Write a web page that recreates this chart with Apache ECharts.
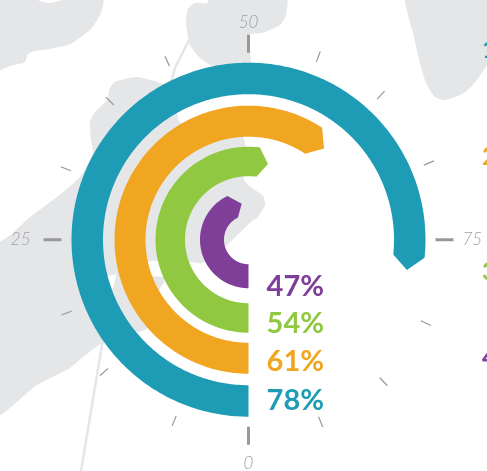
<!DOCTYPE html>
<html>
<head>
<meta charset="utf-8">
<style>html,body{margin:0;padding:0;background:#fff}#main{width:487px;height:471px}</style>
<script src="https://cdn.jsdelivr.net/npm/echarts@6/dist/echarts.min.js"></script>
</head>
<body>
<div id="main"></div>
<script>
// values, inner ring first
var rings = ['purple', 'green', 'orange', 'teal'];
var percents = [47, 54, 61, 78];
var gaugeLabels = ['0', '25', '50', '75'];
var sideLabels = ['1', '2', '3', '4'];
// small ticks read off the dial, not quite even in the picture
var minorTicks = [6.2, 13.2, 18.9, 30.9, 37.5, 43.2, 55.8, 61.8, 68.6, 82, 87.9, 94];

var colors = ['#7f3f98', '#90c841', '#f1a621', '#1e9cb5'];
var landColor = '#e5e6e8';
var tickColor = '#98989c';

// ring inner/outer radius and arrow tip length, in px
var ringBands = [[24.5, 48.5], [63.5, 93], [103, 134], [145.5, 177]];
var tipLength = [9.5, 10, 13, 14];

var percentTop = [287, 324, 362, 401];
var sideTop = [50, 157, 272, 358];
var sideColor = [colors[3], colors[2], colors[1], colors[0]];

// background map, just decoration
var land = [
  [[-5, -5], [38, -5], [38, 0], [50, 3], [63, 0], [103, 0], [100, 15], [90, 30], [70, 44], [50, 49], [35, 51], [28, 54], [25, 62], [10, 66], [-5, 71]],
  [[195, 3], [207, 3], [210, -5], [286, -5], [286, 15], [280, 25], [262, 33], [250, 35], [250, 80], [215, 68], [200, 58], [190, 45], [186, 22], [188, 9]],
  [[406, -5], [406, 7], [413, 33], [420, 63], [426, 83], [435, 97], [445, 100], [464, 93], [477, 80], [492, 55], [492, -5]],
  [[-5, 248], [13, 233], [30, 217], [57, 197], [80, 177], [93, 153], [91, 140], [90, 122], [95, 112], [108, 99], [109, 90], [115, 82], [137, 77], [160, 83], [175, 92], [177, 113], [180, 122], [200, 130], [243, 137], [245, 145], [243, 177], [248, 185], [263, 196], [265, 205], [257, 218], [253, 220], [226, 246], [202, 263], [190, 262], [147, 262], [146, 275], [165, 278], [158, 293], [148, 328], [138, 332], [120, 335], [102, 343], [83, 357], [70, 368], [37, 385], [-5, 416]]
];

function ringItem(params, api) {
  var i = api.value(0);
  var band = ringBands[i];
  var end = api.value(1);
  var mid = (band[0] + band[1]) / 2;
  // tip length as axis units
  var bodyEnd = end - tipLength[i] / mid * 180 / Math.PI / 3.6;
  var pts = [];
  var a;
  for (a = 0; a < bodyEnd; a += 0.25) pts.push(api.coord([band[1], a]));
  pts.push(api.coord([band[1], bodyEnd]));
  pts.push(api.coord([mid, end]));
  pts.push(api.coord([band[0], bodyEnd]));
  for (a = bodyEnd - 0.25; a > 0; a -= 0.25) pts.push(api.coord([band[0], a]));
  pts.push(api.coord([band[0], 0]));
  return {
    type: 'polygon',
    shape: { points: pts },
    style: { fill: colors[i] }
  };
}

function minorTickItem(params, api) {
  var a = api.value(0);
  var p1 = api.coord([190.5, a]);
  var p2 = api.coord([201.5, a]);
  return {
    type: 'line',
    shape: { x1: p1[0], y1: p1[1], x2: p2[0], y2: p2[1] },
    style: { stroke: tickColor, lineWidth: 1.2 }
  };
}

var graphics = [];
land.forEach(function (pts) {
  graphics.push({ type: 'polygon', z: -10, silent: true, shape: { points: pts, smooth: 0.2 }, style: { fill: landColor } });
});
// white wedge by the coast and the thin road
graphics.push({ type: 'polygon', z: -9, silent: true, shape: { points: [[107, 276], [117, 274], [113, 290]] }, style: { fill: '#fff' } });
graphics.push({ type: 'polyline', z: -8, silent: true, shape: { points: [[81, 471], [102, 345], [118, 273], [175, 68], [189, 40]] }, style: { stroke: landColor, lineWidth: 2.5, fill: null } });

percents.forEach(function (p, i) {
  graphics.push({
    type: 'text', z: 10, silent: true, x: 324, y: percentTop[i],
    style: { text: p + '%', fill: colors[i], font: 'bold 29px Lato', align: 'right', verticalAlign: 'middle' }
  });
});
sideLabels.forEach(function (s, i) {
  graphics.push({
    type: 'text', z: 10, silent: true, x: 482, y: sideTop[i],
    style: { text: s, fill: sideColor[i], font: 'bold 25px Lato', align: 'left', verticalAlign: 'middle' }
  });
});

var labelFont = { color: '#a0a0a3', fontFamily: 'Lato', fontStyle: 'italic', fontWeight: 300, fontSize: 17 };

var chart = echarts.init(document.getElementById('main'), null, { renderer: 'canvas' });
chart.setOption({
  animation: false,
  backgroundColor: '#fff',
  polar: { center: [248.5, 239.7], radius: [0, 187] },
  radiusAxis: { type: 'value', min: 0, max: 187, axisLine: { show: false }, axisTick: { show: false }, axisLabel: { show: false }, splitLine: { show: false } },
  angleAxis: {
    type: 'value', min: 0, max: 100, interval: 25, startAngle: 270, clockwise: true,
    axisLine: { show: false }, splitLine: { show: false },
    axisTick: { show: true, length: 18, lineStyle: { color: tickColor, width: 3 } },
    axisLabel: {
      show: true, margin: 22, color: labelFont.color, fontFamily: labelFont.fontFamily, fontStyle: labelFont.fontStyle,
      fontWeight: labelFont.fontWeight, fontSize: labelFont.fontSize,
      formatter: function (v) {
        return '{a' + v + '|' + gaugeLabels[v / 25] + '}';
      },
      // the four labels do not sit on one circle, nudge each
      rich: {
        a0: Object.assign({ padding: [6, 0, 0, 0] }, labelFont),
        a25: Object.assign({ padding: [0, 9, 0, 0] }, labelFont),
        a50: Object.assign({}, labelFont),
        a75: Object.assign({ padding: [0, 0, 0, 5] }, labelFont)
      }
    }
  },
  series: [{
    type: 'custom',
    name: 'minor ticks',
    coordinateSystem: 'polar',
    silent: true,
    encode: { angle: 0 },
    renderItem: minorTickItem,
    data: minorTicks.map(function (a) { return [a]; })
  }, {
    type: 'custom',
    name: 'rings',
    coordinateSystem: 'polar',
    silent: true,
    renderItem: ringItem,
    data: percents.map(function (p, i) { return [i, p]; })
  }],
  graphic: { elements: graphics }
});
</script>
</body>
</html>
